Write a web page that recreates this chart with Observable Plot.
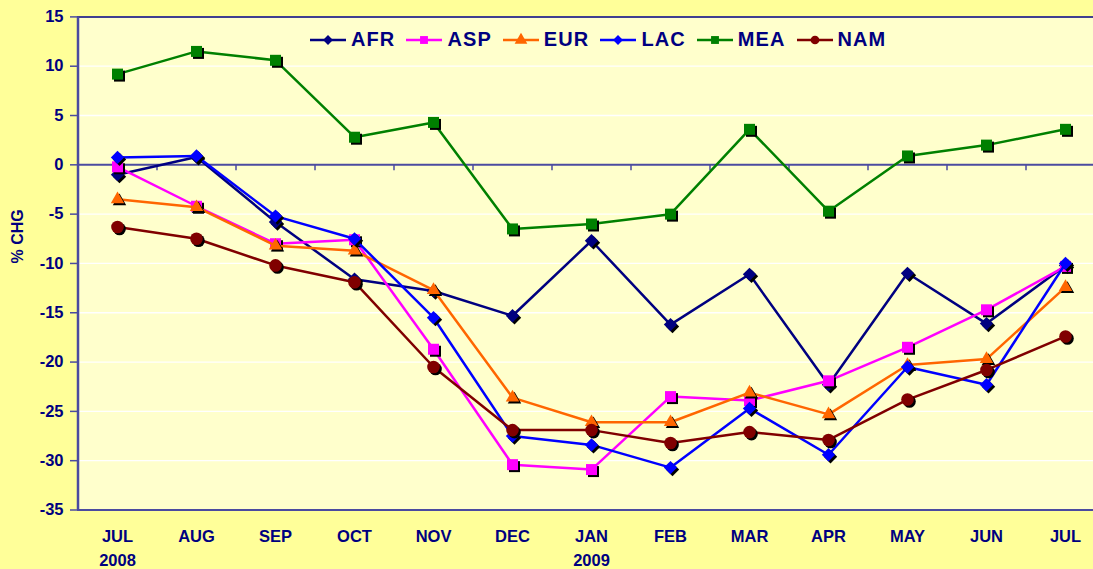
<!DOCTYPE html>
<html><head><meta charset="utf-8">
<script src="https://cdn.jsdelivr.net/npm/d3@7"></script>
<script src="https://cdn.jsdelivr.net/npm/@observablehq/plot@0.6"></script>
<style>
html,body{margin:0;padding:0;background:#FFFF99;}
#wrap{position:relative;width:1093px;height:569px;overflow:hidden;font-family:"Liberation Sans",Arial,sans-serif;}
#chart svg g[aria-label="y-axis tick label"] text{font-size:16.5px;}
#chart svg g[aria-label="x-axis tick label"] text{font-size:16.5px;}
#legend{position:absolute;left:302px;top:24px;width:596px;height:31px;background:#FFFFCC;display:flex;align-items:center;gap:11px;padding-left:8px;box-sizing:border-box;}
.item{display:flex;align-items:center;gap:5px;}
.item span{font-size:20px;font-weight:bold;color:#000080;letter-spacing:1.1px;display:inline-block;transform:scaleY(1.05);}
</style></head>
<body><div id="wrap"><div id="chart"></div><div id="legend"></div></div>
<script>
const months = ["JUL","AUG","SEP","OCT","NOV","DEC","JAN","FEB","MAR","APR","MAY","JUN","JUL"];
const years  = ["2008","","","","","","2009","","","","","",""];
const seriesNames = ["AFR","ASP","EUR","LAC","MEA","NAM"];
const AFR = [-1.0, 0.8, -5.8, -11.6, -12.8, -15.3, -7.7, -16.2, -11.1, -22.3, -11.0, -16.1, -10.2];
const ASP = [-0.2, -4.2, -8.0, -7.6, -18.7, -30.4, -30.9, -23.5, -23.9, -21.9, -18.5, -14.7, -10.3];
const EUR = [-3.5, -4.3, -8.2, -8.7, -12.7, -23.6, -26.1, -26.1, -23.1, -25.3, -20.3, -19.7, -12.4];
const LAC = [0.75, 0.9, -5.2, -7.5, -15.5, -27.5, -28.4, -30.7, -24.7, -29.4, -20.5, -22.3, -10.0];
const MEA = [9.2, 11.5, 10.6, 2.8, 4.3, -6.5, -6.0, -5.0, 3.6, -4.7, 0.9, 2.0, 3.6];
const NAM = [-6.3, -7.5, -10.2, -11.9, -20.5, -26.9, -26.9, -28.2, -27.1, -27.9, -23.8, -20.8, -17.4];
const yTicks = [-35,-30,-25,-20,-15,-10,-5,0,5,10,15];
const colors = {AFR:"#000080", ASP:"#FF00FF", EUR:"#FF6600", LAC:"#0000FF", MEA:"#008000", NAM:"#800000"};
const symbols = {AFR:"diamond2", ASP:"square", EUR:"triangle", LAC:"diamond2", MEA:"square", NAM:"circle"};
const radii = {AFR:6.0, ASP:6.2, EUR:5.0, LAC:6.0, MEA:6.2, NAM:6.3};
const values = {AFR, ASP, EUR, LAC, MEA, NAM};

const idx = months.map((m,i)=>i);
const navy = "#000080";
const axisColor = "#4B4BA0";

const marks = [
  Plot.frame({fill:"#FFFFCC", stroke:null}),
  Plot.ruleY(yTicks.filter(v=>v!==0 && v!==15 && v!==-35), {stroke:"white", strokeWidth:1.3}),
  Plot.ruleY([15], {stroke:navy, strokeWidth:1.5}),
  Plot.ruleY([-35], {stroke:axisColor, strokeWidth:2}),
  Plot.ruleY([0], {stroke:axisColor, strokeWidth:2}),
  Plot.ruleX(idx.slice(0,12), {x:d=>d, dx:39.5, y1:0, y2:-0.6, stroke:axisColor, strokeWidth:1.5}),
  Plot.ruleX([0], {x:d=>d, dx:-39.5, y1:-35, y2:15, stroke:axisColor, strokeWidth:2.5}),
  Plot.axisY({ticks:yTicks, tickSize:7, tickPadding:7, tickFormat:d=>String(d), stroke:axisColor, strokeWidth:1.5, fill:navy, label:null}),
  Plot.axisX({ticks:idx, tickSize:0, tickPadding:15, tickFormat:i=>months[i]+(years[i]?"\n"+years[i]:""), fill:navy, label:null, lineHeight:1.45}),
  Plot.text(["% CHG"], {frameAnchor:"left", dx:-60, rotate:-90, fill:navy, fontSize:16, fontWeight:"bold"})
];
for (const s of seriesNames) {
  const data = values[s].map((v,i)=>({i, v}));
  marks.push(Plot.line(data, {x:"i", y:"v", stroke:colors[s], strokeWidth:2.5}));
  marks.push(Plot.dot(data, {x:"i", y:"v", symbol:symbols[s], r:radii[s], fill:"black", stroke:null, dx:2, dy:2}));
  marks.push(Plot.dot(data, {x:"i", y:"v", symbol:symbols[s], r:radii[s], fill:colors[s], stroke:null}));
}

const chart = Plot.plot({
  width:1093, height:569,
  marginLeft:77, marginRight:0, marginTop:16, marginBottom:59,
  x:{type:"point", domain:idx, range:[117,1065], padding:0},
  y:{domain:[-35,15], range:[509.5,16.4]},
  style:{background:"#FFFF99", color:navy, fontFamily:"'Liberation Sans', Arial, sans-serif", fontWeight:"bold", fontSize:"16px"},
  marks
});
document.getElementById("chart").appendChild(chart);

// legend
const legend = document.getElementById("legend");
for (const s of seriesNames) {
  const item = document.createElement("div");
  item.className = "item";
  const sym = d3.symbol().type({diamond2:d3.symbolDiamond2, square:d3.symbolSquare, triangle:d3.symbolTriangle, circle:d3.symbolCircle}[symbols[s]]).size(symbols[s]==="triangle"?70:(symbols[s]==="circle"?60:62))();
  item.innerHTML = `<svg width="36" height="20"><line x1="0" x2="36" y1="10" y2="10" stroke="${colors[s]}" stroke-width="2.4"/><path d="${sym}" transform="translate(18,10)" fill="${colors[s]}"/></svg><span>${s}</span>`;
  legend.appendChild(item);
}
</script></body></html>
